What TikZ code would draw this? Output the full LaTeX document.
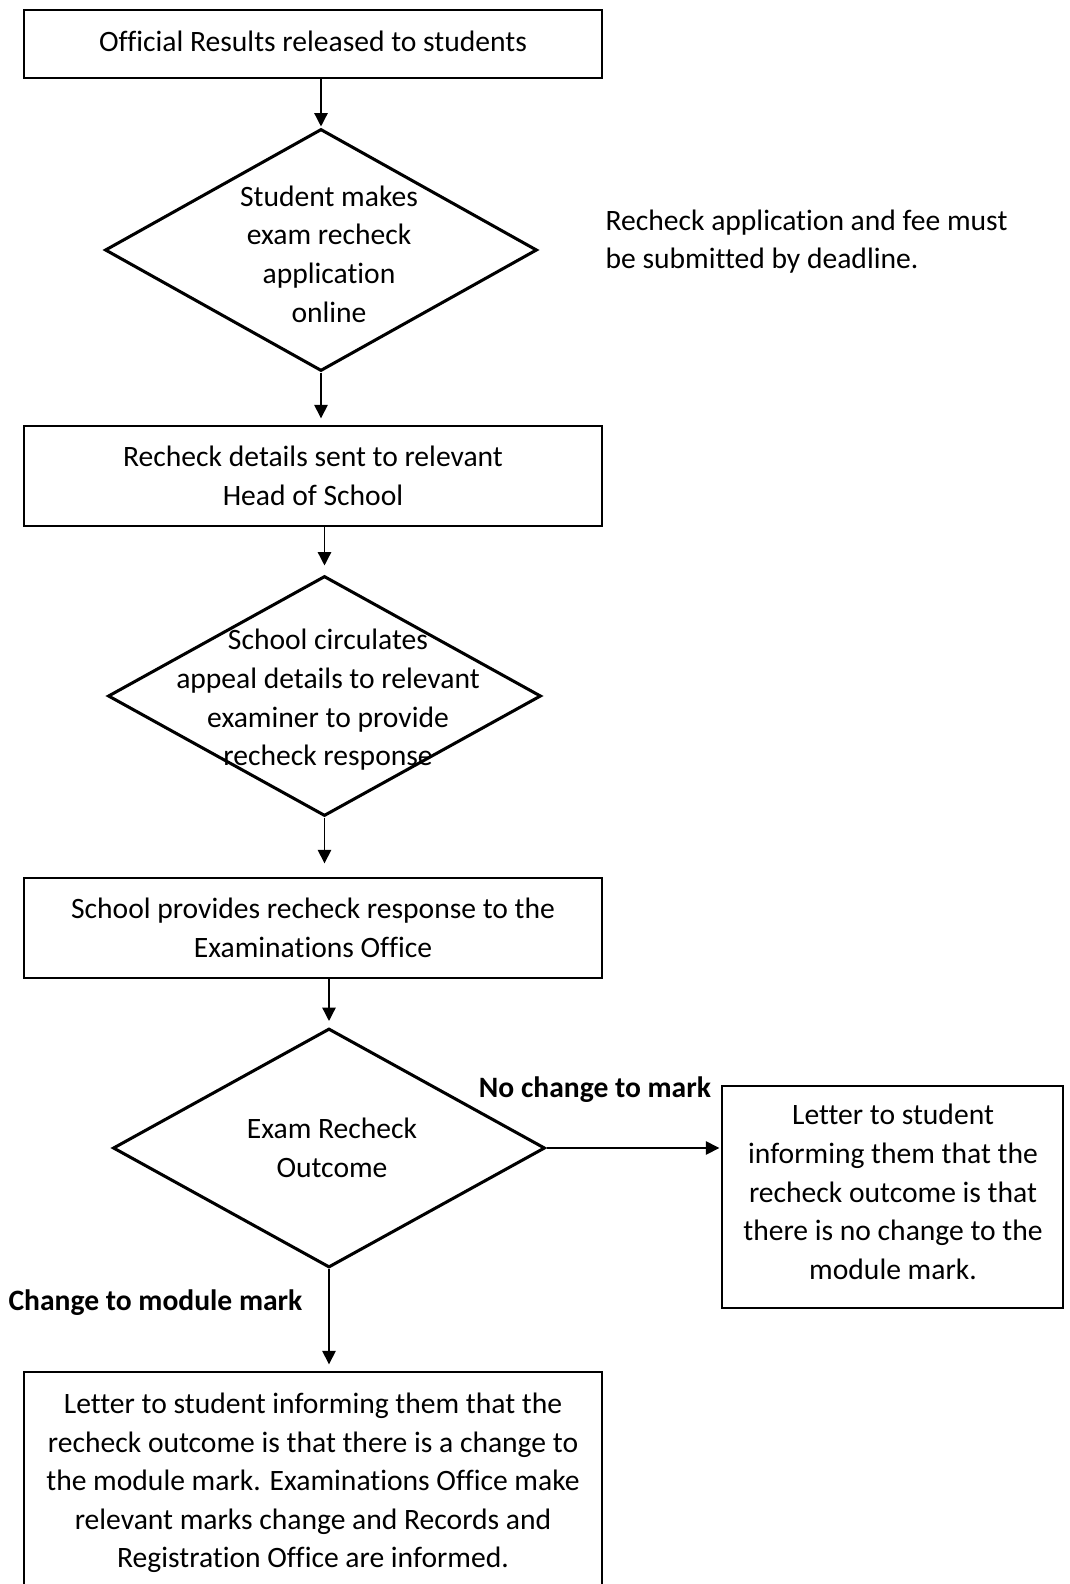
\documentclass[tikz,border=0pt]{standalone}
\usepackage{fontspec}
\setmainfont{Carlito}[Ligatures=NoCommon]
\usetikzlibrary{arrows.meta,shapes.geometric}

\newcommand{\flowfont}{\fontsize{10.65}{13.9}\selectfont}

\tikzset{
  stepbox/.style={draw, line width=0.5pt, minimum width=578*0.36pt, inner sep=0pt, align=center, font=\flowfont},
  decision/.style={diamond, draw, line width=1.1pt, inner sep=0pt},
  dtext/.style={align=center, font=\flowfont, inner sep=0pt},
  branch/.style={font=\flowfont\bfseries, inner sep=0pt},
  flow/.style={line width=0.5pt, -{Triangle[length=4.8pt,width=4.8pt]}, shorten >=7*0.36pt}
}

\begin{document}
\begin{tikzpicture}[x=0.36pt, y=-0.36pt]
  \useasboundingbox (0,0) rectangle (1070,1584);

  % boxes
  \node[stepbox, minimum height=68*0.36pt, text depth=2pt] (released) at (313,44) {Official Results released to students};
  \node[stepbox, minimum height=100*0.36pt] (details) at (313,476) {Recheck details sent to relevant\\Head of School};
  \node[stepbox, minimum height=100*0.36pt] (response) at (313,928) {School provides recheck response to the\\Examinations Office};
  \node[stepbox, minimum height=222*0.36pt] (changed) at (313,1483) {Letter to student informing them that the\\recheck outcome is that there is a change to\\the module mark. Examinations Office make\\relevant marks change and Records and\\Registration Office are informed.};
  \node[stepbox, minimum width=341*0.36pt, minimum height=222*0.36pt] (nochange) at (892.5,1197) {};
  \node[dtext] (nochangetxt) at (893,1192) {Letter to student\\informing them that the\\recheck outcome is that\\there is no change to the\\module mark.};

  % diamonds
  \node[decision, minimum width=432*0.36pt, minimum height=242*0.36pt] (apply) at (321,250) {};
  \node[dtext] (applytxt) at (329,254) {Student makes\\exam recheck\\application\\online};
  \node[decision, minimum width=433*0.36pt, minimum height=240*0.36pt] (circulate) at (324.5,696) {};
  \node[dtext] (circulatetxt) at (328,700) {School circulates\\appeal details to relevant\\examiner to provide\\recheck response};
  \node[decision, minimum width=432*0.36pt, minimum height=239*0.36pt] (outcome) at (329,1148) {};
  \node[dtext] (outcometxt) at (332,1148) {Exam Recheck\\Outcome};

  % notes
  \node[dtext, align=left, anchor=west] (deadline) at (605,241.5) {Recheck application and fee must\\be submitted by deadline.};
  \node[branch] (nolabel) at (595,1090) {No change to mark};
  \node[branch] (yeslabel) at (155.5,1303) {Change to module mark};

  % arrows
  \draw[flow, shorten >=1*0.36pt] (released.south -| apply) -- (apply.north);
  \draw[flow] (apply.south) -- (details.north -| apply);
  \draw[flow, shorten >=9*0.36pt] (details.south -| circulate) -- (circulate.north);
  \draw[flow, shorten >=14*0.36pt] (circulate.south) -- (response.north -| circulate);
  \draw[flow, shorten >=6*0.36pt] (response.south -| outcome) -- (outcome.north);
  \draw[flow, shorten >=2*0.36pt] (outcome.east) -- (nochange.west |- outcome);
  \draw[flow] (outcome.south) -- (changed.north -| outcome);
\end{tikzpicture}
\end{document}
